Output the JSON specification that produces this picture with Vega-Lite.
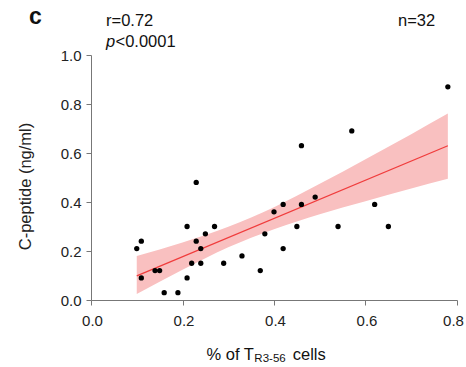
{
  "$schema": "https://vega.github.io/schema/vega-lite/v6.json",
  "width": 366,
  "height": 245,
  "autosize": "none",
  "padding": {"left": 91, "top": 55, "right": 9, "bottom": 67},
  "config": {
    "view": {"stroke": null},
    "font": "Liberation Sans",
    "axis": {
      "grid": false,
      "domainColor": "#777777",
      "tickColor": "#777777",
      "tickSize": 5,
      "labelFlush": false,
      "labelFont": "Liberation Sans",
      "labelFontSize": 15,
      "labelColor": "#222222",
      "titleFont": "Liberation Sans",
      "titleFontSize": 16.5,
      "titleFontWeight": "normal",
      "titleColor": "#222222"
    },
    "text": {"font": "Liberation Sans", "fontSize": 16.5, "color": "#111111"}
  },
  "datasets": {
    "points": [
      {"x": 0.10, "y": 0.21}, {"x": 0.11, "y": 0.24}, {"x": 0.11, "y": 0.09}, {"x": 0.14, "y": 0.12},
      {"x": 0.15, "y": 0.12}, {"x": 0.16, "y": 0.03}, {"x": 0.19, "y": 0.03}, {"x": 0.21, "y": 0.30},
      {"x": 0.21, "y": 0.09}, {"x": 0.22, "y": 0.15}, {"x": 0.23, "y": 0.48}, {"x": 0.23, "y": 0.24},
      {"x": 0.24, "y": 0.21}, {"x": 0.24, "y": 0.15}, {"x": 0.25, "y": 0.27}, {"x": 0.27, "y": 0.30},
      {"x": 0.29, "y": 0.15}, {"x": 0.33, "y": 0.18}, {"x": 0.37, "y": 0.12}, {"x": 0.38, "y": 0.27},
      {"x": 0.40, "y": 0.36}, {"x": 0.42, "y": 0.39}, {"x": 0.42, "y": 0.21}, {"x": 0.45, "y": 0.30},
      {"x": 0.46, "y": 0.63}, {"x": 0.46, "y": 0.39}, {"x": 0.49, "y": 0.42}, {"x": 0.54, "y": 0.30},
      {"x": 0.57, "y": 0.69}, {"x": 0.62, "y": 0.39}, {"x": 0.65, "y": 0.30}, {"x": 0.78, "y": 0.87}
    ],
    "band": [
      {"x": 0.10, "lo": 0.024, "hi": 0.180},
      {"x": 0.20, "lo": 0.123, "hi": 0.235},
      {"x": 0.30, "lo": 0.215, "hi": 0.299},
      {"x": 0.40, "lo": 0.289, "hi": 0.379},
      {"x": 0.50, "lo": 0.350, "hi": 0.474},
      {"x": 0.60, "lo": 0.403, "hi": 0.575},
      {"x": 0.70, "lo": 0.455, "hi": 0.677},
      {"x": 0.78, "lo": 0.495, "hi": 0.761}
    ],
    "one": [{}]
  },
  "layer": [
    {
      "data": {"name": "band"},
      "mark": {"type": "area", "color": "#f9c0c0", "opacity": 1, "interpolate": "monotone"},
      "encoding": {
        "x": {"field": "x", "type": "quantitative", "scale": {"domain": [0, 0.8], "nice": false},
              "axis": {"values": [0, 0.2, 0.4, 0.6, 0.8], "format": ".1f", "title": null, "labelPadding": 8,
                       "labelOffset": {"condition": {"test": "datum.value >= 0.79", "value": -4}, "value": 1}}},
        "y": {"field": "lo", "type": "quantitative", "scale": {"domain": [0, 1], "nice": false},
              "axis": {"values": [0, 0.2, 0.4, 0.6, 0.8, 1.0], "format": ".1f", "title": "C-peptide (ng/ml)",
                       "labelPadding": 5, "titleX": -58, "titleY": 131}},
        "y2": {"field": "hi"}
      }
    },
    {
      "data": {"name": "points"},
      "transform": [{"regression": "y", "on": "x"}],
      "mark": {"type": "line", "color": "#f03c3c", "strokeWidth": 1.3},
      "encoding": {
        "x": {"field": "x", "type": "quantitative"},
        "y": {"field": "y", "type": "quantitative"}
      }
    },
    {
      "data": {"name": "points"},
      "mark": {"type": "circle", "color": "#000000", "opacity": 1, "size": 28},
      "encoding": {
        "x": {"field": "x", "type": "quantitative"},
        "y": {"field": "y", "type": "quantitative"}
      }
    },
    {
      "data": {"name": "one"},
      "mark": {"type": "text", "text": "% of T", "align": "right", "baseline": "alphabetic", "fontSize": 16.5},
      "encoding": {"x": {"datum": 0.356, "type": "quantitative"}, "y": {"datum": -0.245, "type": "quantitative"}}
    },
    {
      "data": {"name": "one"},
      "mark": {"type": "text", "text": "R3-56", "align": "left", "baseline": "alphabetic", "fontSize": 11.5, "dx": 0.5},
      "encoding": {"x": {"datum": 0.356, "type": "quantitative"}, "y": {"datum": -0.253, "type": "quantitative"}}
    },
    {
      "data": {"name": "one"},
      "mark": {"type": "text", "text": "cells", "align": "left", "baseline": "alphabetic", "fontSize": 16.5},
      "encoding": {"x": {"datum": 0.441, "type": "quantitative"}, "y": {"datum": -0.245, "type": "quantitative"}}
    },
    {
      "data": {"name": "one"},
      "mark": {"type": "text", "text": "c", "align": "left", "baseline": "alphabetic", "fontSize": 23, "fontWeight": "bold"},
      "encoding": {"x": {"datum": -0.1355, "type": "quantitative"}, "y": {"datum": 1.127, "type": "quantitative"}}
    },
    {
      "data": {"name": "one"},
      "mark": {"type": "text", "text": "r=0.72", "align": "left", "baseline": "alphabetic"},
      "encoding": {"x": {"datum": 0.0328, "type": "quantitative"}, "y": {"datum": 1.118, "type": "quantitative"}}
    },
    {
      "data": {"name": "one"},
      "mark": {"type": "text", "text": "p", "align": "left", "baseline": "alphabetic", "fontStyle": "italic"},
      "encoding": {"x": {"datum": 0.0328, "type": "quantitative"}, "y": {"datum": 1.031, "type": "quantitative"}}
    },
    {
      "data": {"name": "one"},
      "mark": {"type": "text", "text": "<0.0001", "align": "left", "baseline": "alphabetic", "dx": 9.5},
      "encoding": {"x": {"datum": 0.0328, "type": "quantitative"}, "y": {"datum": 1.031, "type": "quantitative"}}
    },
    {
      "data": {"name": "one"},
      "mark": {"type": "text", "text": "n=32", "align": "left", "baseline": "alphabetic"},
      "encoding": {"x": {"datum": 0.671, "type": "quantitative"}, "y": {"datum": 1.118, "type": "quantitative"}}
    }
  ]
}
